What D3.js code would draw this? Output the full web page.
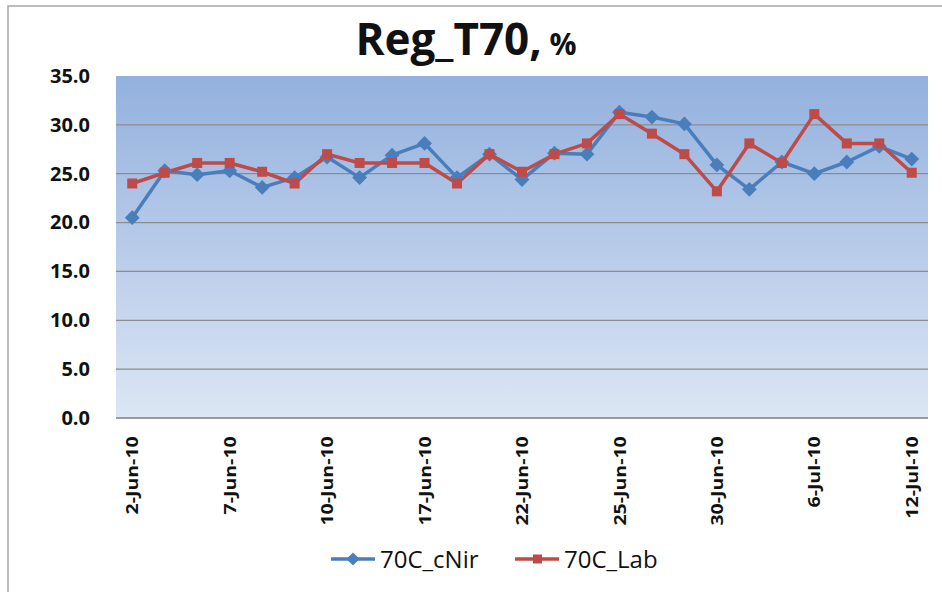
<!DOCTYPE html>
<html>
<head>
<meta charset="utf-8">
<script src="https://cdn.jsdelivr.net/npm/d3@7"></script>
<style>
  body { margin: 0; background: #fff; }
  text { font-family: "Open Sans", "Noto Sans", sans-serif; }
</style>
</head>
<body>
<div id="chart"></div>
<script>
// categories (dates), only every third one is labelled on the axis
var dates = ["2-Jun-10","3-Jun-10","4-Jun-10","7-Jun-10","8-Jun-10","9-Jun-10",
             "10-Jun-10","11-Jun-10","14-Jun-10","17-Jun-10","18-Jun-10","21-Jun-10",
             "22-Jun-10","23-Jun-10","24-Jun-10","25-Jun-10","28-Jun-10","29-Jun-10",
             "30-Jun-10","1-Jul-10","5-Jul-10","6-Jul-10","7-Jul-10","8-Jul-10","12-Jul-10"];

var cNir = [20.5,25.3,24.9,25.3,23.6,24.6,26.7,24.6,26.9,28.1,24.6,27.0,
            24.4,27.1,27.0,31.3,30.8,30.1,25.9,23.4,26.2,25.0,26.2,27.8,26.5];

var lab  = [24.0,25.1,26.1,26.1,25.2,24.0,27.0,26.1,26.1,26.1,24.0,27.0,
            25.2,27.0,28.1,31.1,29.1,27.0,23.2,28.1,26.1,31.1,28.1,28.1,25.1];

var yTicks = [0,5,10,15,20,25,30,35];

var seriesNames = ["70C_cNir","70C_Lab"];
var seriesColors = ["#4a7ebb","#be4b48"];

var W = 942, H = 592;
var margin = {top: 76, right: 14, bottom: 174, left: 116},
    width = 928 - margin.left,
    height = 418 - margin.top;

var svg = d3.select("#chart")
    .append("svg")
    .attr("width", W)
    .attr("height", H);

// outer chart border
svg.append("rect")
    .attr("x", 8).attr("y", 6)
    .attr("width", W).attr("height", H)
    .attr("fill", "#fff")
    .attr("stroke", "#a6a6a6")
    .attr("stroke-width", 1.5);

var defs = svg.append("defs");
var grad = defs.append("linearGradient")
    .attr("id", "bg").attr("x1", 0).attr("y1", 0).attr("x2", 0).attr("y2", 1);
grad.append("stop").attr("offset", "0%").attr("stop-color", "#93b1de");
grad.append("stop").attr("offset", "100%").attr("stop-color", "#dce6f4");

var g = svg.append("g")
    .attr("transform", "translate(" + margin.left + "," + margin.top + ")");

g.append("rect")
    .attr("width", width)
    .attr("height", height)
    .attr("fill", "url(#bg)");

// title
var title = svg.append("text")
    .attr("x", 466)
    .attr("y", 55)
    .attr("text-anchor", "middle")
    .style("font-weight", "bold")
    .style("fill", "#111");
title.append("tspan").style("font-size", "44px").text("Reg_T70,");
title.append("tspan").style("font-size", "30px").text(" %");

// scales
var x = d3.scalePoint()
    .domain(dates)
    .range([0, width])
    .padding(0.5);

var y = d3.scaleLinear()
    .domain([0, 35])
    .range([height, 0]);

// gridlines
g.selectAll(".grid")
    .data(yTicks)
    .enter()
    .append("line")
    .attr("class", "grid")
    .attr("x1", 0)
    .attr("x2", width)
    .attr("y1", function(d){ return y(d); })
    .attr("y2", function(d){ return y(d); })
    .attr("stroke", function(d){ return d === 0 ? "#7f7f7f" : "#8c8c8c"; })
    .attr("stroke-width", function(d){ return d === 0 ? 1.5 : 1.2; })
    .attr("display", function(d){ return d === 35 ? "none" : null; });

// y axis
var yAxisCall = d3.axisLeft(y)
    .tickValues(yTicks)
    .tickSize(0)
    .tickPadding(26)
    .tickFormat(d3.format(".1f"));

g.append("g")
    .attr("class", "y axis")
    .call(yAxisCall)
    .call(function(s){ s.select(".domain").remove(); })
    .selectAll("text")
    .style("font-size", "20px")
    .style("font-weight", "bold")
    .style("fill", "#111")
    .style("font-family", "'Open Sans', sans-serif");

// x axis
var xAxisCall = d3.axisBottom(x)
    .tickSize(0)
    .tickFormat(function(d, i){ return i % 3 === 0 ? d : ""; });

g.append("g")
    .attr("class", "x axis")
    .attr("transform", "translate(0," + height + ")")
    .call(xAxisCall)
    .call(function(s){ s.select(".domain").remove(); })
    .selectAll("text")
    .attr("transform", "rotate(-90) scale(1.22,1)")
    .attr("x", -15)
    .attr("y", 0)
    .attr("dy", "0.35em")
    .attr("text-anchor", "end")
    .style("font-size", "16px")
    .style("font-weight", "bold")
    .style("fill", "#111")
    .style("font-family", "'Open Sans', sans-serif");

// lines
var seriesData = [cNir, lab];
var line = d3.line()
    .x(function(d, i){ return x(dates[i]); })
    .y(function(d){ return y(d); });

seriesData.forEach(function(vals, s){
    g.append("path")
        .datum(vals)
        .attr("fill", "none")
        .attr("stroke", seriesColors[s])
        .attr("stroke-width", 3.5)
        .attr("stroke-linejoin", "round")
        .attr("d", line);
});

// markers
g.selectAll(".diamond")
    .data(cNir)
    .enter()
    .append("path")
    .attr("class", "diamond")
    .attr("d", d3.symbol().type(d3.symbolDiamond2).size(140))
    .attr("transform", function(d, i){ return "translate(" + x(dates[i]) + "," + y(d) + ")"; })
    .attr("fill", seriesColors[0]);

g.selectAll(".square")
    .data(lab)
    .enter()
    .append("rect")
    .attr("class", "square")
    .attr("x", function(d, i){ return x(dates[i]) - 5; })
    .attr("y", function(d){ return y(d) - 5; })
    .attr("width", 10)
    .attr("height", 10)
    .attr("fill", seriesColors[1]);

// legend
var legendX = [331, 515];
seriesNames.forEach(function(name, i){
    var row = svg.append("g")
        .attr("transform", "translate(" + legendX[i] + ",559)");
    row.append("line")
        .attr("x1", 0).attr("x2", 44)
        .attr("stroke", seriesColors[i])
        .attr("stroke-width", 3.5);
    if (i === 0) {
        row.append("path")
            .attr("d", d3.symbol().type(d3.symbolDiamond2).size(110))
            .attr("transform", "translate(22,0)")
            .attr("fill", seriesColors[i]);
    } else {
        row.append("rect")
            .attr("x", 18).attr("y", -4.5)
            .attr("width", 9).attr("height", 9)
            .attr("fill", seriesColors[i]);
    }
    row.append("text")
        .attr("x", 49)
        .attr("y", 0)
        .attr("dy", "0.36em")
        .style("font-size", "24px")
        .style("fill", "#111")
        .text(name);
});
</script>
</body>
</html>
